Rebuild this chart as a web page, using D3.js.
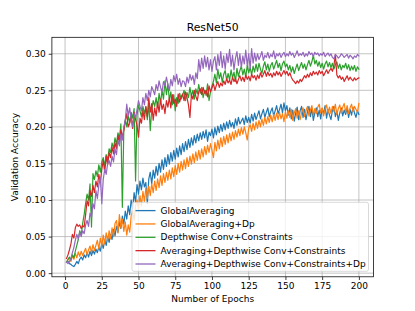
<!DOCTYPE html>
<html>
<head>
<meta charset="utf-8">
<script src="https://cdn.jsdelivr.net/npm/d3@7/dist/d3.min.js"></script>
<style>
  body { margin: 0; background: #fff; }
  svg { font-family: "DejaVu Sans", sans-serif; }
</style>
</head>
<body>
<svg id="chart" width="415" height="311"></svg>
<script>
// Data (epochs 1..200)
var seriesNames = ['GlobalAveraging', 'GlobalAveraging+Dp', 'Depthwise Conv+Constraints',
  'Averaging+Depthwise Conv+Constraints', 'Averaging+Depthwise Conv+Constraints+Dp'];
var colors = ['#1f77b4', '#ff7f0e', '#2ca02c', '#d62728', '#9467bd'];
var xTicks = [0, 25, 50, 75, 100, 125, 150, 175, 200];
var yTicks = [0.00, 0.05, 0.10, 0.15, 0.20, 0.25, 0.30];
var xDomain = [-8.95, 209.95];
var yDomain = [-0.005, 0.3225];

var globalAvg = [
  0.015, 0.016, 0.013, 0.012, 0.010, 0.009, 0.012, 0.016, 0.013, 0.019,
  0.022, 0.018, 0.025, 0.021, 0.028, 0.022, 0.030, 0.024, 0.031, 0.026,
  0.033, 0.028, 0.036, 0.030, 0.041, 0.034, 0.045, 0.038, 0.050, 0.042,
  0.053, 0.046, 0.060, 0.051, 0.064, 0.056, 0.070, 0.061, 0.078, 0.067,
  0.085, 0.074, 0.092, 0.080, 0.100, 0.088, 0.110, 0.097, 0.121, 0.108,
  0.126, 0.114, 0.130, 0.118, 0.124, 0.095, 0.129, 0.138, 0.122, 0.141,
  0.130, 0.146, 0.134, 0.150, 0.138, 0.155, 0.142, 0.158, 0.146, 0.162,
  0.149, 0.165, 0.153, 0.168, 0.156, 0.171, 0.159, 0.174, 0.162, 0.177,
  0.166, 0.180, 0.169, 0.183, 0.172, 0.185, 0.175, 0.188, 0.178, 0.190,
  0.181, 0.192, 0.183, 0.194, 0.185, 0.196, 0.180, 0.193, 0.188, 0.197,
  0.185, 0.199, 0.189, 0.201, 0.192, 0.203, 0.194, 0.205, 0.196, 0.207,
  0.198, 0.209, 0.200, 0.206, 0.198, 0.211, 0.202, 0.213, 0.204, 0.208,
  0.212, 0.203, 0.215, 0.206, 0.213, 0.205, 0.217, 0.208, 0.219, 0.210,
  0.216, 0.222, 0.211, 0.218, 0.224, 0.213, 0.220, 0.226, 0.214, 0.221,
  0.226, 0.215, 0.222, 0.229, 0.218, 0.224, 0.231, 0.219, 0.233, 0.222,
  0.229, 0.216, 0.226, 0.211, 0.223, 0.208, 0.219, 0.227, 0.210, 0.222,
  0.228, 0.213, 0.224, 0.210, 0.221, 0.228, 0.214, 0.225, 0.209, 0.219,
  0.226, 0.214, 0.223, 0.211, 0.225, 0.218, 0.229, 0.212, 0.224, 0.216,
  0.210, 0.223, 0.228, 0.214, 0.222, 0.209, 0.219, 0.226, 0.215, 0.223,
  0.217, 0.226, 0.213, 0.224, 0.216, 0.227, 0.219, 0.213, 0.222, 0.217
];

var globalAvgDp = [
  0.015, 0.018, 0.021, 0.016, 0.024, 0.019, 0.027, 0.021, 0.029, 0.023,
  0.030, 0.024, 0.029, 0.034, 0.025, 0.032, 0.037, 0.028, 0.039, 0.031,
  0.038, 0.045, 0.033, 0.048, 0.037, 0.052, 0.040, 0.055, 0.044, 0.058,
  0.047, 0.062, 0.050, 0.068, 0.072, 0.055, 0.080, 0.062, 0.074, 0.057,
  0.070, 0.052, 0.066, 0.056, 0.078, 0.086, 0.072, 0.092, 0.100, 0.088,
  0.106, 0.092, 0.112, 0.098, 0.116, 0.102, 0.119, 0.106, 0.122, 0.110,
  0.126, 0.113, 0.129, 0.117, 0.133, 0.120, 0.136, 0.124, 0.138, 0.127,
  0.141, 0.129, 0.144, 0.132, 0.147, 0.135, 0.150, 0.138, 0.153, 0.141,
  0.155, 0.143, 0.158, 0.146, 0.160, 0.149, 0.163, 0.151, 0.166, 0.154,
  0.168, 0.156, 0.170, 0.159, 0.173, 0.162, 0.175, 0.165, 0.177, 0.168,
  0.158, 0.179, 0.167, 0.182, 0.170, 0.185, 0.173, 0.187, 0.176, 0.189,
  0.178, 0.191, 0.181, 0.193, 0.183, 0.195, 0.186, 0.197, 0.188, 0.199,
  0.190, 0.200, 0.192, 0.182, 0.198, 0.203, 0.194, 0.205, 0.196, 0.207,
  0.198, 0.209, 0.200, 0.211, 0.202, 0.213, 0.204, 0.214, 0.206, 0.216,
  0.207, 0.217, 0.209, 0.219, 0.210, 0.220, 0.211, 0.218, 0.207, 0.221,
  0.212, 0.222, 0.213, 0.224, 0.209, 0.219, 0.225, 0.212, 0.222, 0.210,
  0.219, 0.226, 0.214, 0.222, 0.228, 0.215, 0.223, 0.229, 0.216, 0.225,
  0.218, 0.227, 0.231, 0.219, 0.226, 0.215, 0.224, 0.230, 0.219, 0.227,
  0.218, 0.228, 0.221, 0.231, 0.217, 0.225, 0.230, 0.219, 0.227, 0.232,
  0.220, 0.229, 0.218, 0.226, 0.231, 0.221, 0.228, 0.224, 0.220, 0.232
];

var depthwise = [
  0.015, 0.019, 0.022, 0.018, 0.025, 0.021, 0.030, 0.038, 0.046, 0.058,
  0.052, 0.068, 0.080, 0.095, 0.108, 0.100, 0.122, 0.063, 0.136, 0.128,
  0.140, 0.132, 0.148, 0.138, 0.152, 0.158, 0.146, 0.162, 0.155, 0.170,
  0.165, 0.178, 0.170, 0.185, 0.176, 0.192, 0.184, 0.204, 0.090, 0.196,
  0.210, 0.200, 0.215, 0.206, 0.220, 0.212, 0.225, 0.126, 0.216, 0.230,
  0.222, 0.214, 0.228, 0.218, 0.227, 0.210, 0.232, 0.195, 0.224, 0.236,
  0.228, 0.240, 0.226, 0.246, 0.232, 0.250, 0.238, 0.263, 0.244, 0.259,
  0.236, 0.248, 0.230, 0.244, 0.222, 0.240, 0.232, 0.246, 0.238, 0.243,
  0.250, 0.236, 0.247, 0.240, 0.254, 0.242, 0.250, 0.238, 0.252, 0.245,
  0.258, 0.246, 0.254, 0.240, 0.250, 0.243, 0.259, 0.236, 0.248, 0.256,
  0.262, 0.272, 0.260, 0.279, 0.266, 0.274, 0.261, 0.272, 0.277, 0.264,
  0.273, 0.264, 0.278, 0.267, 0.275, 0.262, 0.280, 0.269, 0.277, 0.283,
  0.271, 0.279, 0.268, 0.284, 0.274, 0.281, 0.271, 0.283, 0.275, 0.286,
  0.276, 0.287, 0.279, 0.273, 0.283, 0.289, 0.278, 0.286, 0.276, 0.284,
  0.288, 0.279, 0.285, 0.291, 0.281, 0.287, 0.277, 0.286, 0.290, 0.282,
  0.286, 0.278, 0.284, 0.275, 0.282, 0.273, 0.280, 0.286, 0.277, 0.283,
  0.288, 0.280, 0.286, 0.278, 0.285, 0.291, 0.283, 0.289, 0.298, 0.286,
  0.291, 0.283, 0.289, 0.281, 0.287, 0.279, 0.286, 0.290, 0.282, 0.288,
  0.281, 0.287, 0.279, 0.285, 0.289, 0.280, 0.286, 0.278, 0.284, 0.281,
  0.287, 0.279, 0.285, 0.277, 0.283, 0.278, 0.284, 0.276, 0.282, 0.279
];

var avgDepthwise = [
  0.020, 0.025, 0.032, 0.040, 0.053, 0.048, 0.062, 0.067, 0.064, 0.066,
  0.061, 0.065, 0.063, 0.080, 0.099, 0.092, 0.113, 0.105, 0.120, 0.110,
  0.126, 0.118, 0.135, 0.124, 0.142, 0.154, 0.138, 0.160, 0.148, 0.165,
  0.158, 0.172, 0.163, 0.178, 0.170, 0.188, 0.180, 0.196, 0.186, 0.195,
  0.208, 0.218, 0.200, 0.205, 0.215, 0.198, 0.220, 0.210, 0.202, 0.186,
  0.212, 0.205, 0.222, 0.210, 0.228, 0.214, 0.240, 0.220, 0.232, 0.209,
  0.226, 0.215, 0.234, 0.220, 0.238, 0.224, 0.231, 0.218, 0.236, 0.227,
  0.240, 0.226, 0.244, 0.232, 0.238, 0.228, 0.245, 0.234, 0.241, 0.245,
  0.236, 0.248, 0.240, 0.230, 0.213, 0.244, 0.238, 0.250, 0.242, 0.236,
  0.248, 0.252, 0.244, 0.254, 0.246, 0.250, 0.241, 0.256, 0.248, 0.253,
  0.259, 0.250, 0.257, 0.262, 0.254, 0.260, 0.256, 0.263, 0.258, 0.266,
  0.260, 0.264, 0.258, 0.268, 0.262, 0.266, 0.259, 0.265, 0.270, 0.263,
  0.268, 0.262, 0.271, 0.265, 0.269, 0.263, 0.272, 0.267, 0.270, 0.264,
  0.271, 0.266, 0.274, 0.268, 0.272, 0.277, 0.269, 0.275, 0.270, 0.273,
  0.268, 0.274, 0.270, 0.276, 0.271, 0.275, 0.269, 0.273, 0.277, 0.272,
  0.276, 0.270, 0.274, 0.268, 0.264, 0.262, 0.259, 0.263, 0.260, 0.265,
  0.262, 0.266, 0.270, 0.267, 0.272, 0.268, 0.274, 0.270, 0.276, 0.272,
  0.275, 0.271, 0.277, 0.273, 0.276, 0.270, 0.274, 0.278, 0.273, 0.277,
  0.280, 0.276, 0.284, 0.299, 0.271, 0.267, 0.270, 0.265, 0.268, 0.262,
  0.266, 0.270, 0.264, 0.268, 0.265, 0.263, 0.267, 0.264, 0.266, 0.267
];

var avgDepthwiseDp = [
  0.015, 0.013, 0.016, 0.020, 0.028, 0.035, 0.045, 0.053, 0.047, 0.056,
  0.050, 0.058, 0.054, 0.066, 0.072, 0.064, 0.082, 0.076, 0.095, 0.088,
  0.113, 0.102, 0.120, 0.131, 0.095, 0.128, 0.142, 0.135, 0.150, 0.154,
  0.146, 0.160, 0.152, 0.170, 0.162, 0.182, 0.174, 0.190, 0.182, 0.200,
  0.209, 0.231, 0.215, 0.226, 0.210, 0.200, 0.218, 0.213, 0.224, 0.236,
  0.228, 0.222, 0.240, 0.230, 0.246, 0.236, 0.250, 0.241, 0.255, 0.250,
  0.244, 0.258, 0.250, 0.263, 0.254, 0.248, 0.262, 0.256, 0.268, 0.258,
  0.250, 0.265, 0.256, 0.270, 0.262, 0.272, 0.258, 0.266, 0.255, 0.263,
  0.262, 0.255, 0.268, 0.260, 0.272, 0.264, 0.270, 0.258, 0.274, 0.266,
  0.292, 0.276, 0.294, 0.280, 0.297, 0.282, 0.295, 0.278, 0.292, 0.276,
  0.290, 0.296, 0.278, 0.299, 0.284, 0.303, 0.281, 0.297, 0.279, 0.300,
  0.288, 0.306, 0.283, 0.298, 0.278, 0.294, 0.303, 0.284, 0.300, 0.281,
  0.297, 0.286, 0.305, 0.284, 0.300, 0.280, 0.307, 0.287, 0.301, 0.290,
  0.300, 0.292, 0.297, 0.303, 0.291, 0.298, 0.295, 0.302, 0.294, 0.299,
  0.296, 0.304, 0.293, 0.300, 0.297, 0.301, 0.295, 0.299, 0.302, 0.296,
  0.300, 0.297, 0.303, 0.298, 0.301, 0.295, 0.299, 0.304, 0.297, 0.300,
  0.298, 0.302, 0.296, 0.300, 0.297, 0.303, 0.299, 0.301, 0.296, 0.302,
  0.299, 0.301, 0.297, 0.300, 0.298, 0.302, 0.296, 0.299, 0.301, 0.297,
  0.300, 0.295, 0.293, 0.299, 0.297, 0.294, 0.296, 0.300, 0.298, 0.295,
  0.297, 0.299, 0.294, 0.298, 0.296, 0.293, 0.297, 0.295, 0.299, 0.297
];

var allSeries = [globalAvg, globalAvgDp, depthwise, avgDepthwise, avgDepthwiseDp];

// Layout (matplotlib default subplot box)
var W = 415, H = 311;
var margin = {top: 37.3, right: 41.5, bottom: 34.2, left: 51.9};
var width = W - margin.left - margin.right,
    height = H - margin.top - margin.bottom;

var svg = d3.select('#chart');
var g = svg.append('g')
    .attr('transform', 'translate(' + margin.left + ',' + margin.top + ')');

var xScale = d3.scaleLinear().domain(xDomain).range([0, width]);
var yScale = d3.scaleLinear().domain(yDomain).range([height, 0]);

// Grid
g.append('g').selectAll('line').data(xTicks).enter().append('line')
    .attr('x1', function(d) { return xScale(d); })
    .attr('x2', function(d) { return xScale(d); })
    .attr('y1', 0).attr('y2', height)
    .attr('stroke', '#b0b0b0').attr('stroke-width', 0.75);
g.append('g').selectAll('line').data(yTicks).enter().append('line')
    .attr('y1', function(d) { return yScale(d); })
    .attr('y2', function(d) { return yScale(d); })
    .attr('x1', 0).attr('x2', width)
    .attr('stroke', '#b0b0b0').attr('stroke-width', 0.75);

// Lines
var line = d3.line()
    .x(function(d, i) { return xScale(i + 1); })
    .y(function(d) { return yScale(d); });

g.append('g').selectAll('path').data(allSeries).enter().append('path')
    .attr('d', function(d) { return line(d); })
    .attr('fill', 'none')
    .attr('stroke', function(d, i) { return colors[i]; })
    .attr('stroke-width', 1.2)
    .attr('stroke-linejoin', 'round')
    .attr('stroke-linecap', 'square');

// Axes
var xAxis = d3.axisBottom(xScale).tickValues(xTicks).tickSize(3.2).tickPadding(3)
    .tickFormat(d3.format('d'));
var yAxis = d3.axisLeft(yScale).tickValues(yTicks).tickSize(3.2).tickPadding(3)
    .tickFormat(d3.format('.2f'));

var gx = g.append('g')
    .attr('transform', 'translate(0,' + height + ')')
    .call(xAxis);
var gy = g.append('g').call(yAxis);
[gx, gy].forEach(function(a) {
  a.select('.domain').remove();
  a.selectAll('.tick line').attr('stroke', '#000').attr('stroke-width', 0.75);
  a.selectAll('.tick text').attr('fill', '#000')
    .style('font-size', '9px').style('font-family', 'DejaVu Sans');
});

// Frame
g.append('rect')
    .attr('width', width).attr('height', height)
    .attr('fill', 'none').attr('stroke', '#000').attr('stroke-width', 0.75);

// Title and labels
svg.append('text')
    .attr('x', margin.left + width / 2).attr('y', 31)
    .attr('text-anchor', 'middle')
    .style('font-size', '10.8px')
    .text('ResNet50');
svg.append('text')
    .attr('x', margin.left + width / 2).attr('y', 302)
    .attr('text-anchor', 'middle')
    .style('font-size', '9px')
    .text('Number of Epochs');
svg.append('text')
    .attr('transform', 'translate(18,' + (margin.top + height / 2) + ') rotate(-90)')
    .attr('text-anchor', 'middle')
    .style('font-size', '9px')
    .text('Validation Accuracy');

// Legend
var legend = g.append('g')
    .attr('transform', 'translate(' + (width - 241.5) + ',' + (height - 74.5) + ')');
legend.append('rect')
    .attr('width', 236.5).attr('height', 69)
    .attr('rx', 2)
    .attr('fill', '#fff').attr('fill-opacity', 0.8)
    .attr('stroke', '#cccccc').attr('stroke-width', 0.75);
var item = legend.selectAll('.item').data(seriesNames).enter().append('g')
    .attr('transform', function(d, i) { return 'translate(0,' + (8.3 + i * 13.35) + ')'; });
item.append('line')
    .attr('x1', 3.5).attr('x2', 23.5)
    .attr('stroke', function(d, i) { return colors[i]; })
    .attr('stroke-width', 1.3);
item.append('text')
    .attr('x', 28.5).attr('dy', '0.35em')
    .style('font-size', '9px')
    .text(function(d) { return d; });
</script>
</body>
</html>
